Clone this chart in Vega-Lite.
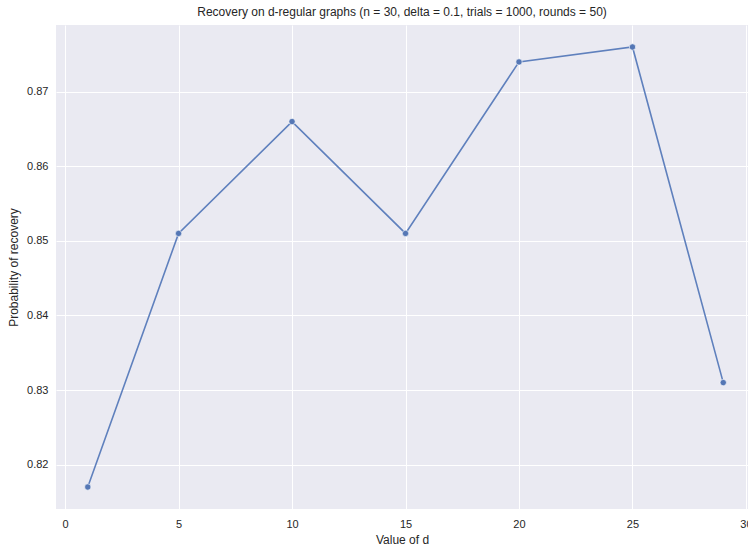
{
  "$schema": "https://vega.github.io/schema/vega-lite/v6.json",
  "autosize": {"type": "none"},
  "padding": {"left": 56, "top": 25, "right": 0, "bottom": 39},
  "width": 692,
  "height": 484,
  "background": "white",
  "config": {
    "view": {"fill": "#EAEAF2", "stroke": null},
    "font": "Liberation Sans",
    "axis": {
      "domain": false,
      "ticks": false,
      "grid": true,
      "gridColor": "#FFFFFF",
      "gridWidth": 1,
      "labelColor": "#262626",
      "labelFontSize": 11,
      "titleColor": "#262626",
      "titleFontSize": 12,
      "titleFontWeight": "normal",
      "labelFont": "Liberation Sans",
      "titleFont": "Liberation Sans"
    }
  },
  "title": {
    "text": "Recovery on d-regular graphs (n = 30, delta = 0.1, trials = 1000, rounds = 50)",
    "fontSize": 12,
    "fontWeight": "normal",
    "color": "#262626",
    "font": "Liberation Sans",
    "offset": 6,
    "anchor": "middle"
  },
  "data": {
    "values": [
      {"d": 1, "p": 0.817},
      {"d": 5, "p": 0.851},
      {"d": 10, "p": 0.866},
      {"d": 15, "p": 0.851},
      {"d": 20, "p": 0.874},
      {"d": 25, "p": 0.876},
      {"d": 29, "p": 0.831}
    ]
  },
  "mark": {
    "type": "line",
    "color": "#5f80bd",
    "strokeWidth": 1.6,
    "clip": false,
    "point": {"filled": true, "size": 40, "fill": "#5577b5", "stroke": "white", "strokeWidth": 0.6}
  },
  "encoding": {
    "x": {
      "field": "d",
      "type": "quantitative",
      "title": "Value of d",
      "scale": {"domain": [-0.4, 30.09], "nice": false, "zero": false},
      "axis": {"values": [0, 5, 10, 15, 20, 25, 30], "labelPadding": 9, "titlePadding": 5, "format": "d"}
    },
    "y": {
      "field": "p",
      "type": "quantitative",
      "title": "Probability of recovery",
      "scale": {"domain": [0.81405, 0.87895], "nice": false, "zero": false},
      "axis": {"values": [0.82, 0.83, 0.84, 0.85, 0.86, 0.87], "format": ".2f", "labelPadding": 8, "titlePadding": 6}
    }
  }
}
